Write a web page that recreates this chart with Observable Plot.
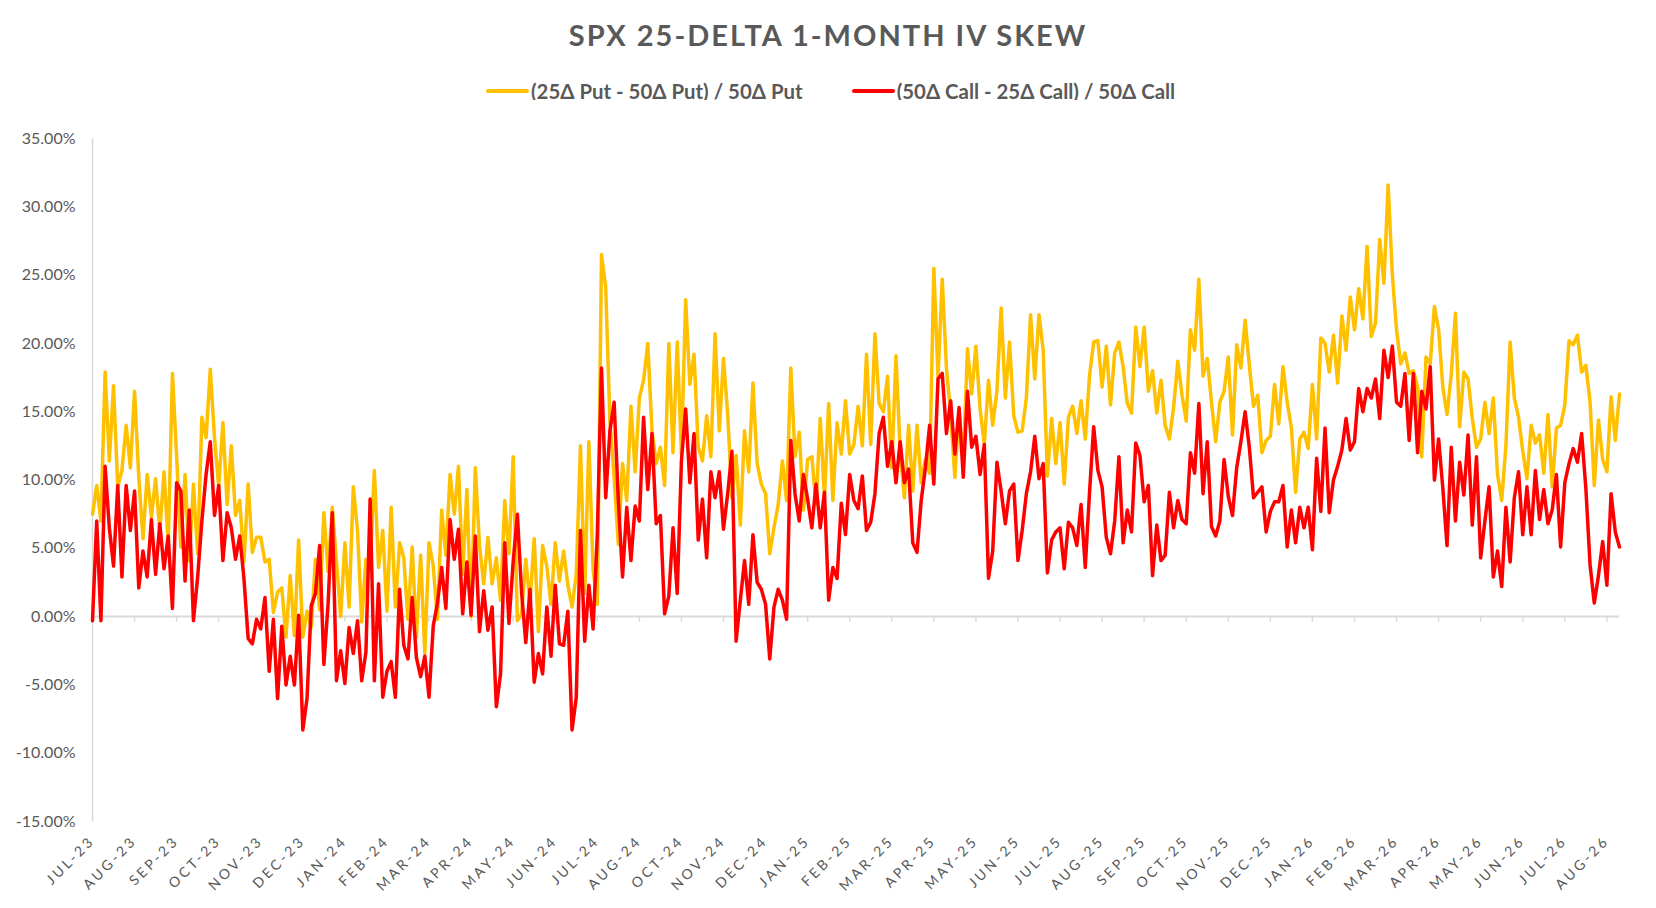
<!DOCTYPE html>
<html>
<head>
<meta charset="utf-8">
<script src="https://cdn.jsdelivr.net/npm/d3@7"></script>
<script src="https://cdn.jsdelivr.net/npm/@observablehq/plot@0.6"></script>
<style>
  html, body { margin:0; padding:0; background:#fff; width:1656px; height:908px; overflow:hidden; font-family: Lato, "Open Sans", sans-serif; }
  #title { position:absolute; left:0; top:17px; width:1656px; text-align:center; font-weight:700; font-size:29px; letter-spacing:2px; color:#595959; }
  #legend { position:absolute; left:486px; top:79px; display:flex; align-items:center; font-weight:700; font-size:20.4px; color:#595959; white-space:nowrap; }
  #legend .sw { display:inline-block; width:43px; height:4.5px; border-radius:2px; margin-right:2px; }
  #legend .item { display:flex; align-items:center; }
  #legend .item + .item { margin-left:49px; }
  #chart { position:absolute; left:0; top:100px; }
  #chart g[aria-label="x-axis tick label"] text { letter-spacing:3px; }
</style>
</head>
<body>
<div id="title">SPX 25-DELTA 1-MONTH IV SKEW</div>
<div id="legend">
  <div class="item"><span class="sw" style="background:#FFC000"></span><span>(25Δ Put - 50Δ Put) / 50Δ Put</span></div>
  <div class="item"><span class="sw" style="background:#FF0000"></span><span>(50Δ Call - 25Δ Call) / 50Δ Call</span></div>
</div>
<div id="chart"></div>
<script>
const monthLabels = ["JUL-23","AUG-23","SEP-23","OCT-23","NOV-23","DEC-23","JAN-24","FEB-24","MAR-24","APR-24","MAY-24","JUN-24","JUL-24","AUG-24","OCT-24","NOV-24","DEC-24","JAN-25","FEB-25","MAR-25","APR-25","MAY-25","JUN-25","JUL-25","AUG-25","SEP-25","OCT-25","NOV-25","DEC-25","JAN-26","FEB-26","MAR-26","APR-26","MAY-26","JUN-26","JUL-26","AUG-26"];
const pointsPerLabel = 10;
const yTicks = [-15,-10,-5,0,5,10,15,20,25,30,35];

// (25Δ Put - 50Δ Put) / 50Δ Put, in %
const putSkew = [
 7.5, 9.6, 7.0, 17.9, 11.4, 16.9, 9.5, 10.7, 14.0, 10.9,
 16.5, 10.2, 5.7, 10.4, 7.3, 10.1, 6.3, 10.6, 5.3, 17.8,
 11.7, 5.1, 10.4, 4.1, 9.7, 4.6, 14.6, 13.1, 18.1, 13.1,
 9.5, 14.2, 8.2, 12.5, 7.4, 8.5, 4.0, 9.7, 4.7, 5.8,
 5.8, 4.0, 4.2, 0.3, 1.8, 2.1, -1.5, 3.0, -1.4, 5.6,
 -1.5, 0.4, -0.8, 4.2, 0.5, 7.6, 3.3, 8.0, 4.0, 0.0,
 5.4, 0.7, 9.5, 6.3, -0.4, 4.2, 3.8, 10.7, 3.6, 6.3,
 0.4, 8.0, 0.7, 5.4, 4.3, -0.2, 5.1, -1.5, 4.5, -2.7,
 5.4, 3.7, -0.2, 7.8, 4.5, 10.4, 7.5, 11.0, 3.1, 9.3,
 0.0, 10.9, 5.2, 2.4, 5.8, 2.4, 4.3, 1.2, 8.5, 4.6,
 11.7, -0.3, 0.2, 4.2, 1.0, 5.7, -1.1, 5.2, 3.7, 0.9,
 5.4, 2.6, 4.8, 2.3, 0.7, 3.1, 12.5, 1.7, 12.8, 3.4,
 0.9,
 26.5, 24.1, 14.3, 10.2, 5.3, 11.2, 8.5, 15.4, 10.6, 16.0,
 17.3, 20.0, 13.6, 11.2, 12.4, 9.6, 20.0, 12.0, 20.1, 11.9,
 23.2, 17.0, 19.2, 12.4, 11.4, 14.7, 11.7, 20.7, 13.6, 18.9,
 14.8, 8.7, 11.8, 6.7, 13.6, 10.6, 17.1, 11.2, 9.7, 9.0,
 4.6, 6.5, 8.2, 11.4, 8.5, 18.2, 11.7, 13.5, 7.8, 11.5,
 11.7, 8.2, 14.5, 8.7, 15.6, 8.5, 14.2, 11.9, 15.8, 11.9,
 12.6, 15.4,
 12.5, 19.2, 12.6, 20.7, 15.6, 15.0, 17.6, 10.9, 19.1, 12.1,
 8.7, 14.0, 9.2, 14.0, 9.8, 11.5, 10.5, 25.5, 17.5, 24.7,
 18.2, 14.8, 10.2, 15.1, 11.2, 19.6, 16.3, 19.8, 15.2, 12.6,
 17.3, 14.0, 16.5, 22.6, 16.0, 20.1, 14.7, 13.5, 13.6, 16.0,
 22.1, 17.4, 22.1, 19.5, 10.3, 14.5, 11.2, 14.2, 9.7, 14.6,
 15.4, 13.4, 15.8, 13.0, 17.6, 20.1, 20.2, 16.8, 19.8,
 15.5, 19.3, 20.1, 18.3, 15.6, 14.9, 21.2, 18.3, 21.2, 16.5,
 18.0, 14.9, 17.3, 14.0, 13.0, 15.3, 18.7, 16.2, 14.3, 21.0,
 19.5, 24.7, 17.6, 18.9, 15.7, 12.8, 15.7, 16.5, 19.0, 13.3,
 19.9, 18.2, 21.7, 18.4, 15.4, 16.2, 12.0, 12.9, 13.2, 17.0,
 14.1, 18.3, 15.7, 13.8, 9.1, 13.0, 13.5, 12.3, 17.0, 13.0,
 20.4, 20.0, 17.9, 20.6, 17.1, 22.0, 19.5, 23.4, 21.0, 24.0,
 21.8, 27.1,
 20.5, 21.5, 27.6, 24.4, 31.6, 25.0, 21.0, 18.5, 19.3, 17.8,
 18.0, 16.8, 11.7, 19.0, 18.5, 22.7, 21.0, 16.8, 14.8, 17.7,
 22.2, 13.9, 17.9, 17.4, 14.5, 12.4, 13.0, 15.7, 13.4, 16.0,
 10.4, 8.5, 12.5, 20.1, 16.0, 14.6, 12.1, 10.1, 14.0, 12.7,
 13.3, 10.5, 14.8, 9.5, 13.8, 14.0, 15.5, 20.2, 19.9, 20.6,
 17.9, 18.4, 15.7, 9.6, 14.4, 11.5, 10.6, 16.1, 12.9, 16.3
];

// (50Δ Call - 25Δ Call) / 50Δ Call, in %
const callSkew = [
 -0.3, 7.0, -0.3, 11.0, 6.5, 3.7, 9.6, 2.9, 9.6, 6.3,
 9.2, 2.1, 4.8, 2.9, 7.1, 3.1, 6.8, 3.5, 5.9, 0.6,
 9.8, 9.2, 2.6, 7.8, -0.3, 2.9, 7.0, 10.4, 12.8, 7.4,
 9.6, 4.1, 7.6, 6.5, 4.2, 5.9, 2.8, -1.6, -2.0, -0.2,
 -0.9, 1.4, -4.0, -0.2, -6.0, -0.7, -5.0, -2.9, -5.0, 0.1,
 -8.3, -6.0, 0.8, 1.7, 5.2, -3.5, 0.9, 7.6, -4.7, -2.5,
 -4.9, -0.8, -2.7, -0.3, -4.7, -2.6, 8.6, -4.7, 2.4, -5.9,
 -4.0, -3.3, -5.9, 2.0, -2.1, -3.1, 1.4, -3.0, -4.4, -2.9,
 -5.9, -0.7, 1.0, 3.6, 0.6, 7.1, 4.2, 6.4, 0.2, 4.0,
 0.1, 5.9, -1.1, 1.9, -1.0, 0.7, -6.6, -4.2, 5.4, -0.5,
 4.0, 7.5, 1.8, -1.9, 2.0, -4.8, -2.7, -4.2, 0.7, -2.9,
 2.3, -2.0, -2.1, 0.4, -8.3, -5.9, 6.3, -1.8, 2.3, -0.9,
 6.0,
 18.2, 8.7, 13.6, 15.7, 8.5, 2.9, 8.0, 4.1, 8.1, 7.0,
 14.6, 9.3, 13.4, 6.8, 7.4, 0.2, 1.5, 6.5, 1.7, 11.4,
 15.2, 9.8, 13.4, 5.6, 8.6, 4.3, 10.6, 8.7, 10.6, 6.4,
 9.0, 12.1, -1.8, 1.2, 4.1, 0.9, 6.0, 2.5, 2.0, 0.9,
 -3.1, 0.7, 2.0, 1.2, -0.2, 12.9, 9.0, 7.0, 10.4, 8.6,
 6.5, 9.7, 6.5, 9.1, 1.2, 3.6, 2.8, 8.3, 6.0, 10.4,
 8.5, 7.9,
 10.3, 6.3, 6.9, 9.0, 13.4, 14.6, 11.0, 12.8, 9.8, 12.8,
 9.8, 10.8, 5.4, 4.7, 8.5, 10.9, 14.0, 9.7, 17.4, 17.8,
 13.4, 15.8, 11.9, 15.3, 10.2, 16.5, 12.4, 13.2, 10.4, 12.6,
 2.8, 4.8, 11.3, 9.2, 6.8, 9.2, 9.7, 4.1, 6.3, 9.0,
 10.6, 13.2, 10.1, 11.2, 3.2, 5.6, 6.2, 6.5, 3.5, 6.9,
 6.5, 5.2, 8.2, 3.6, 9.0, 13.9, 10.7, 9.5, 5.8,
 4.6, 7.0, 11.7, 5.4, 7.8, 6.2, 12.7, 11.8, 8.4, 9.6,
 3.0, 6.7, 4.1, 4.5, 9.1, 6.5, 8.5, 7.1, 6.8, 12.0,
 10.5, 15.6, 9.0, 12.8, 6.6, 5.9, 7.0, 11.5, 8.8, 7.4,
 10.9, 12.8, 15.0, 12.4, 8.7, 9.1, 9.5, 6.2, 7.7, 8.4,
 8.4, 9.6, 5.1, 7.8, 5.4, 8.0, 6.5, 8.0, 4.9, 11.6,
 7.7, 13.8, 7.6, 10.0, 11.0, 12.2, 14.5, 12.2, 12.8, 16.7,
 15.0, 16.7,
 16.0, 17.4, 14.5, 19.5, 17.5, 19.8, 15.7, 15.4, 17.8, 12.9,
 17.8, 12.0, 16.5, 15.2, 18.3, 10.0, 13.0, 9.4, 5.2, 12.4,
 7.0, 11.3, 8.9, 13.3, 6.7, 11.7, 4.3, 7.0, 9.5, 2.9,
 4.8, 2.2, 8.0, 4.0, 8.7, 10.6, 6.0, 9.5, 6.0, 10.7,
 7.1, 9.3, 6.8, 7.8, 10.4, 5.1, 9.8, 11.2, 12.3, 11.3,
 13.4, 9.4, 3.8, 1.0, 3.0, 5.5, 2.3, 9.0, 6.2, 5.1
];

const rows = putSkew.map((v, i) => ({i, put: v, call: callSkew[i]}));
const tickIdx = monthLabels.map((_, k) => k * pointsPerLabel);
const lastIdx = rows.length - 1;

const chart = Plot.plot({
  width: 1656,
  height: 808,
  marginLeft: 92,
  marginRight: 37,
  marginTop: 38,
  marginBottom: 87,
  style: {fontFamily: "Lato, 'Open Sans', sans-serif", background: "#fff", overflow: "visible"},
  x: {domain: [0, lastIdx], axis: null},
  y: {domain: [-15, 35], axis: null},
  marks: [
    Plot.axisY({ticks: yTicks, tickFormat: d => d.toFixed(2) + "%", tickSize: 0, tickPadding: 17, fontSize: 16, fill: "#595959", label: null}),
    Plot.ruleX([0], {y1: -15, y2: 35, stroke: "#d9d9d9", strokeWidth: 1.5}),
    Plot.ruleY([0], {stroke: "#d9d9d9", strokeWidth: 2}),
    Plot.ruleX(tickIdx.slice(1), {y1: 0, y2: -0.4, stroke: "#d9d9d9", strokeWidth: 1.5}),
    Plot.axisX({ticks: tickIdx, tickFormat: d => monthLabels[Math.round(d / pointsPerLabel)], tickRotate: -45, tickSize: 0, tickPadding: 17, fontSize: 14, fill: "#595959", anchor: "bottom", label: null}),
    Plot.lineY(rows, {x: "i", y: "put", stroke: "#FFC000", strokeWidth: 3.5, strokeLinejoin: "round", strokeLinecap: "round"}),
    Plot.lineY(rows, {x: "i", y: "call", stroke: "#FF0000", strokeWidth: 3.5, strokeLinejoin: "round", strokeLinecap: "round"})
  ]
});
document.getElementById("chart").appendChild(chart);
</script>
</body>
</html>
